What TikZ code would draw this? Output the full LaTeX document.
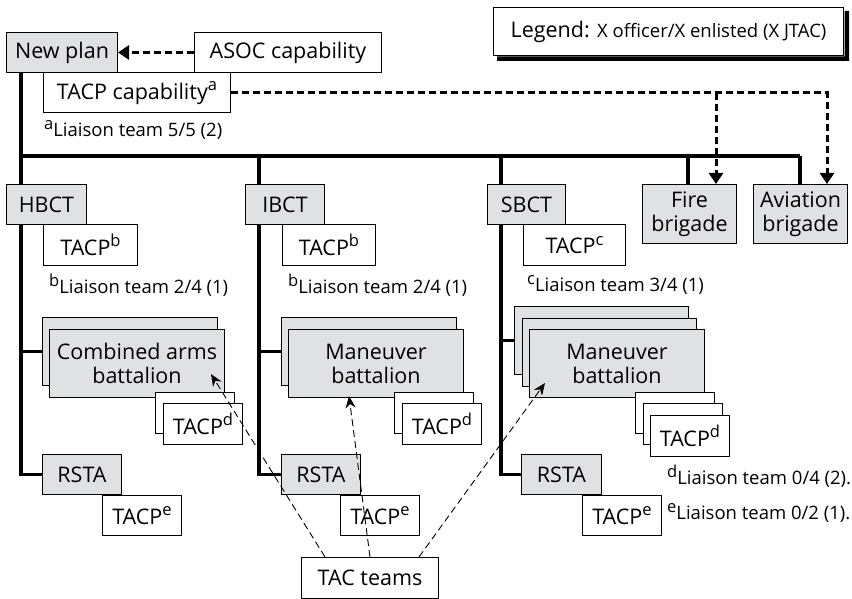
\documentclass[tikz,border=0pt]{standalone}
\usepackage{fontspec}
\setmainfont{Open Sans}
\usetikzlibrary{arrows.meta,calc}
\definecolor{boxgray}{RGB}{224,225,227}
\newcommand\sps[1]{\raisebox{0.4em}{\fontsize{16.5}{16.5}\selectfont #1}}
\begin{document}
\begin{tikzpicture}[x=1pt,y=-1pt,
  box/.style={draw, line width=1pt, fill=white, inner sep=0pt, anchor=north west, align=center, font=\fontsize{21.5}{24}\selectfont},
  gbox/.style={box, fill=boxgray},
  note/.style={anchor=west, inner sep=0pt, font=\fontsize{18.5}{20}\selectfont},
  tree/.style={line width=3.5pt},
  dotarrow/.style={line width=3pt, dash pattern=on 7pt off 4pt, -{Triangle[length=11pt,width=14pt]}},
  tacarrow/.style={line width=0.9pt, dash pattern=on 7pt off 4pt, -{Stealth[length=12pt,width=10pt]}},
  stk/.style={minimum width=175pt, minimum height=68pt},
  tk/.style={minimum width=79pt, minimum height=41pt},
]
\useasboundingbox (0,0) rectangle (852,599);

% top
\node[gbox, minimum width=111pt, minimum height=40pt] (newplan) at (6,32) {New plan};
\node[box, minimum width=187pt, minimum height=40pt] (asoc) at (194,32) {ASOC capability};
\node[box, minimum width=187pt, minimum height=40pt] (tacpcap) at (43,72.5) {TACP capability\sps{a}};
\node[note] (notea) at (44,130) {\sps{a}Liaison team 5/5 (2)};
\node[box, minimum width=350pt, minimum height=48pt] (legend) at (493,7) {Legend: {\fontsize{18.5}{20}\selectfont X officer/X enlisted (X JTAC)}};
\fill[black] ($(legend.north east)+(0.5,4)$) -- ($(legend.north east)+(5,4)$) -- ($(legend.south east)+(5,5)$) -- ($(legend.south west)+(4,5)$) -- ($(legend.south west)+(4,0.5)$) -- ($(legend.south east)+(0.5,0.5)$) -- cycle;

% brigades
\node[gbox, minimum width=80pt, minimum height=40pt] (hbct) at (6,184) {HBCT};
\node[gbox, minimum width=79pt, minimum height=40pt] (ibct) at (245,184) {IBCT};
\node[gbox, minimum width=78pt, minimum height=40pt] (sbct) at (487,184) {SBCT};
\node[gbox, minimum width=94pt, minimum height=59pt] (fire) at (642,184) {Fire\\brigade};
\node[gbox, minimum width=94pt, minimum height=59pt] (avi) at (753,184) {Aviation\\brigade};

\coordinate (colH) at (21,156);
\coordinate (colI) at (259,156);
\coordinate (colS) at (501,156);
\coordinate (colF) at (688,156);
\coordinate (colA) at (800,156);
\coordinate (fireIn) at (716,184);
\coordinate (aviIn) at (827,184);

% tree lines
\draw[tree] (newplan.south -| colH) -- (hbct.north -| colH);
\draw[tree] (colH) -- (colA);
\draw[tree] (colI) -- (ibct.north -| colI);
\draw[tree] (colS) -- (sbct.north -| colS);
\draw[tree] (colF) -- (fire.north -| colF);
\draw[tree] (colA) -- (avi.north -| colA);

% HBCT column
\node[gbox, stk] (hman0) at (42,317) {};
\node[gbox, stk] (hman) at (49,329) {Combined arms\\battalion};
\node[box, tk] (hd0) at (155,392) {};
\node[box, tk] (hd) at (163,403) {TACP\sps{d}};
\node[gbox, minimum width=79pt, minimum height=40pt] (rsta1) at (42,454) {RSTA};
\node[box, minimum width=79pt, minimum height=40pt] (tacpe1) at (102,495) {TACP\sps{e}};
\node[box, minimum width=94pt, minimum height=41pt] (tacpb1) at (43,224) {TACP\sps{b}};
\node[note] (noteb1) at (49,285) {\sps{b}Liaison team 2/4 (1)};
\draw[tree] (hbct.south -| colH) |- (rsta1.west);
\draw[tree] (hman0.west -| colH) -- (hman0.west);

% IBCT column
\node[gbox, stk] (iman0) at (281,317) {};
\node[gbox, stk] (iman) at (288,329) {Maneuver\\battalion};
\node[box, tk] (id0) at (394,392) {};
\node[box, tk] (id) at (402,403) {TACP\sps{d}};
\node[gbox, minimum width=79pt, minimum height=40pt] (rsta2) at (281,454) {RSTA};
\node[box, minimum width=79pt, minimum height=40pt] (tacpe2) at (340,495) {TACP\sps{e}};
\node[box, minimum width=93pt, minimum height=41pt] (tacpb2) at (282,224) {TACP\sps{b}};
\node[note] (noteb2) at (288,285) {\sps{b}Liaison team 2/4 (1)};
\draw[tree] (ibct.south -| colI) |- (rsta2.west);
\draw[tree] (iman0.west -| colI) -- (iman0.west);

% SBCT column
\node[gbox, stk, minimum width=174pt] (sman0) at (514,306) {};
\node[gbox, stk, minimum width=174pt] (sman1) at (522,318) {};
\node[gbox, stk] (sman) at (529,329) {Maneuver\\battalion};
\node[box, tk] (sd0) at (635,392) {};
\node[box, tk] (sd1) at (643,403) {};
\node[box, tk] (sd) at (650,415) {TACP\sps{d}};
\node[gbox, minimum width=80pt, minimum height=40pt] (rsta3) at (521,454) {RSTA};
\node[box, minimum width=79pt, minimum height=40pt] (tacpe3) at (582,495) {TACP\sps{e}};
\node[box, minimum width=102pt, minimum height=41pt] (tacpc) at (523,224) {TACP\sps{c}};
\node[note] (notec) at (527,285) {\sps{c}Liaison team 3/4 (1)};
\node[note] (noted) at (667,476) {\sps{d}Liaison team 0/4 (2).};
\node[note] (notee) at (667,513) {\sps{e}Liaison team 0/2 (1).};
\draw[tree] (sbct.south -| colS) |- (rsta3.west);
\draw[tree] (sman0.west -| colS) -- (sman0.west);

% dotted arrows
\draw[dotarrow] (asoc.west) -- (newplan.east);
\draw[dotarrow] (tacpcap.east) -| (aviIn);
\draw[dotarrow] (tacpcap.east -| fireIn) -- (fireIn);

% TAC teams
\node[box, minimum width=137pt, minimum height=41pt] (tac) at (301,557) {TAC teams};
\coordinate (tipH) at (211,374);
\coordinate (tipI) at (349,396);
\coordinate (tipS) at (545,383);
\draw[tacarrow] ($(tac.north west)+(24,0)$) -- (tipH);
\draw[tacarrow] ($(tac.north west)+(69,0)$) -- (tipI);
\draw[tacarrow] ($(tac.north west)+(118,0)$) -- (tipS);
\end{tikzpicture}
\end{document}
